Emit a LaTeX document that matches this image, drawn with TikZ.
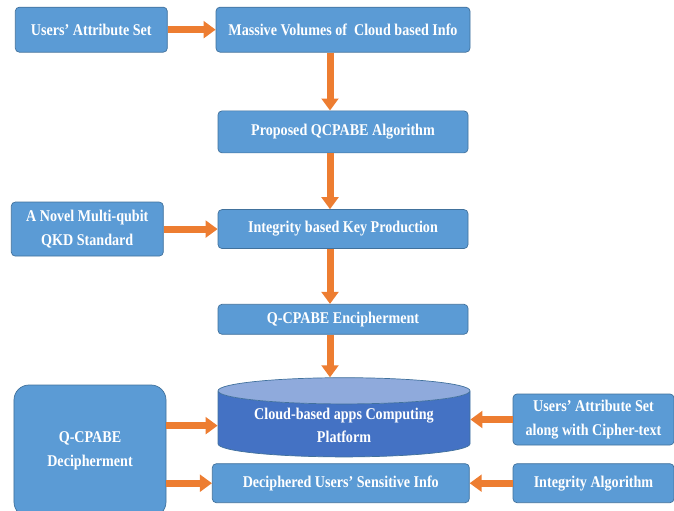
\documentclass[tikz,border=0pt]{standalone}
\usepackage{fontspec}
\setmainfont{Liberation Serif}[FakeStretch=0.86]
\usepackage{tikz}
\usetikzlibrary{arrows.meta,positioning,shapes.geometric}
\definecolor{qboxblue}{HTML}{5B9BD5}
\definecolor{qboxedge}{HTML}{41719C}
\definecolor{qcylblue}{HTML}{4472C4}
\definecolor{qcyltop}{HTML}{8FAADC}
\definecolor{qorange}{HTML}{ED7D31}

\begin{document}
\begin{tikzpicture}[
  every node/.style={font=\bfseries\fontsize{14}{20}\selectfont, text=white},
  blok/.style={rectangle, rounded corners=0.12cm, draw=qboxedge, line width=0.6pt, fill=qboxblue, inner sep=2pt, align=center},
  tong/.style={cylinder, shape border rotate=90, aspect=0.14, draw=qboxedge, line width=0.6pt, cylinder uses custom fill, cylinder body fill=qcylblue, cylinder end fill=qcyltop, align=center},
  seta/.style={-{Triangle[width=0.5cm, length=0.36cm]}, line width=0.21cm, draw=qorange}
]
  \useasboundingbox (0,0) rectangle (20.22,-15.33);

  \node[blok, minimum width=7.62cm, minimum height=1.35cm] (massive) at (10.29,-0.89) {Massive Volumes of~ Cloud based Info};
  \node[blok, minimum width=4.56cm, minimum height=1.35cm, left=1.44cm of massive] (users) {Users’ Attribute Set};
  \node[blok, minimum width=7.5cm, minimum height=1.26cm, below=1.74cm of massive] (qcpabe) {Proposed QCPABE Algorithm};
  \node[blok, minimum width=7.5cm, minimum height=1.17cm, below=1.68cm of qcpabe] (keyprod) {Integrity based Key Production};
  \node[blok, minimum width=4.56cm, minimum height=1.62cm, left=1.62cm of keyprod] (novel) {A Novel Multi-qubit\\QKD Standard};
  \node[blok, minimum width=7.5cm, minimum height=0.9cm, below=1.65cm of keyprod] (encipher) {Q-CPABE Encipherment};
  \node[tong, minimum width=7.56cm, minimum height=2.0cm] (cloud) at (10.32,-12.77) {Cloud-based apps Computing\\Platform};
  \node[blok, rounded corners=0.45cm, minimum width=4.56cm, minimum height=3.96cm] (decipher) at (2.7,-13.53) {Q-CPABE\\Decipherment};
  \node[blok, minimum width=4.83cm, minimum height=1.53cm] (attrcipher) at (17.805,-12.585) {Users’ Attribute Set\\along with Cipher-text};
  \node[blok, minimum width=4.83cm, minimum height=1.17cm, below=0.54cm of attrcipher] (integalg) {Integrity Algorithm};
  \node[blok, minimum width=7.71cm, minimum height=1.17cm, left=1.29cm of integalg] (deciphered) {Deciphered Users’ Sensitive Info};

  \draw[seta] (users) -- (massive);
  \draw[seta] ([xshift=-0.39cm]massive.south) -- ([xshift=-0.39cm]qcpabe.north);
  \draw[seta] ([xshift=-0.39cm]qcpabe.south) -- ([xshift=-0.39cm]keyprod.north);
  \draw[seta] (novel.east) -- (novel.east -| keyprod.west);
  \draw[seta] ([xshift=-0.39cm]keyprod.south) -- ([xshift=-0.39cm]encipher.north);
  \draw[seta] ([xshift=-0.39cm]encipher.south) -- ([xshift=-0.39cm]encipher.south |- cloud.north);
  \draw[seta] (cloud.west -| decipher.east) -- (cloud.west);
  \draw[seta] (deciphered.west -| decipher.east) -- (deciphered.west);
  \draw[seta] (attrcipher.west) -- (attrcipher.west -| cloud.east);
  \draw[seta] (integalg) -- (deciphered);
\end{tikzpicture}
\end{document}
